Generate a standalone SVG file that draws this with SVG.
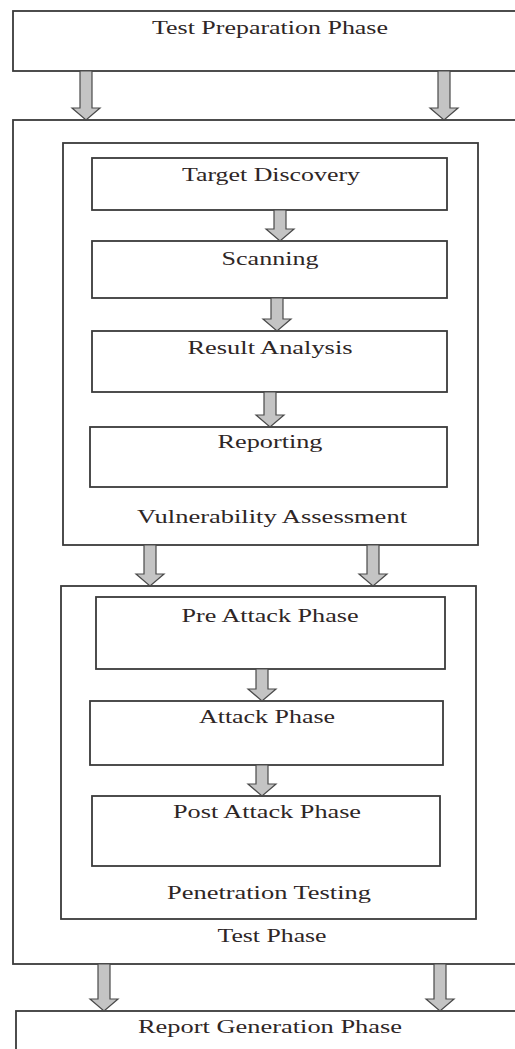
<svg xmlns="http://www.w3.org/2000/svg" width="515" height="1049" viewBox="0 0 515 1049">
<style>
.box{fill:#fff;stroke:#3a3a3a;stroke-width:1.8}
.arr{fill:#c4c4c4;stroke:#4a4a4a;stroke-width:1.2;stroke-linejoin:miter}
text{font-family:"Liberation Serif","Times New Roman",serif;font-size:18px;fill:#2e2626;text-anchor:middle}
</style>
<rect width="515" height="1049" fill="#fff"/>
<g id="test-phase"><rect class="box" x="13" y="120" width="520" height="844"/><text x="272" y="942" textLength="109" lengthAdjust="spacingAndGlyphs">Test Phase</text></g>
<g id="test-preparation"><rect class="box" x="13" y="11" width="520" height="60"/><text x="270" y="34" textLength="236" lengthAdjust="spacingAndGlyphs">Test Preparation Phase</text></g>
<g id="vulnerability-assessment"><rect class="box" x="63" y="143" width="415" height="402"/><text x="272" y="523" textLength="270" lengthAdjust="spacingAndGlyphs">Vulnerability Assessment</text></g>
<g id="target-discovery"><rect class="box" x="92" y="158" width="355" height="52"/><text x="271" y="181" textLength="178" lengthAdjust="spacingAndGlyphs">Target Discovery</text></g>
<g id="scanning"><rect class="box" x="92" y="241" width="355" height="57"/><text x="270" y="265" textLength="97" lengthAdjust="spacingAndGlyphs">Scanning</text></g>
<g id="result-analysis"><rect class="box" x="92" y="331" width="355" height="61"/><text x="270" y="354" textLength="165" lengthAdjust="spacingAndGlyphs">Result Analysis</text></g>
<g id="reporting"><rect class="box" x="90" y="427" width="357" height="60"/><text x="270" y="448" textLength="105" lengthAdjust="spacingAndGlyphs">Reporting</text></g>
<g id="penetration-testing"><rect class="box" x="61" y="586" width="415" height="333"/><text x="269" y="899" textLength="204" lengthAdjust="spacingAndGlyphs">Penetration Testing</text></g>
<g id="pre-attack"><rect class="box" x="96" y="597" width="349" height="72"/><text x="270" y="622" textLength="177" lengthAdjust="spacingAndGlyphs">Pre Attack Phase</text></g>
<g id="attack"><rect class="box" x="90" y="701" width="353" height="64"/><text x="267" y="723" textLength="136" lengthAdjust="spacingAndGlyphs">Attack Phase</text></g>
<g id="post-attack"><rect class="box" x="92" y="796" width="348" height="70"/><text x="267" y="818" textLength="188" lengthAdjust="spacingAndGlyphs">Post Attack Phase</text></g>
<g id="report-generation"><rect class="box" x="16" y="1011" width="520" height="60"/><text x="270" y="1033" textLength="264" lengthAdjust="spacingAndGlyphs">Report Generation Phase</text></g>
<g id="connectors">
<path class="arr" d="M80,71 h12 v37 h8 l-14,12 l-14,-12 h8 z"/>
<path class="arr" d="M438,71 h12 v37 h8 l-14,12 l-14,-12 h8 z"/>
<path class="arr" d="M274,210 h12 v19 h8 l-14,12 l-14,-12 h8 z"/>
<path class="arr" d="M271,298 h12 v21 h8 l-14,12 l-14,-12 h8 z"/>
<path class="arr" d="M264,392 h12 v23 h8 l-14,12 l-14,-12 h8 z"/>
<path class="arr" d="M144,545 h12 v29 h8 l-14,12 l-14,-12 h8 z"/>
<path class="arr" d="M367,545 h12 v29 h8 l-14,12 l-14,-12 h8 z"/>
<path class="arr" d="M256,669 h12 v20 h8 l-14,12 l-14,-12 h8 z"/>
<path class="arr" d="M256,765 h12 v19 h8 l-14,12 l-14,-12 h8 z"/>
<path class="arr" d="M98,964 h12 v35 h8 l-14,12 l-14,-12 h8 z"/>
<path class="arr" d="M434,964 h12 v35 h8 l-14,12 l-14,-12 h8 z"/>
</g>
</svg>
